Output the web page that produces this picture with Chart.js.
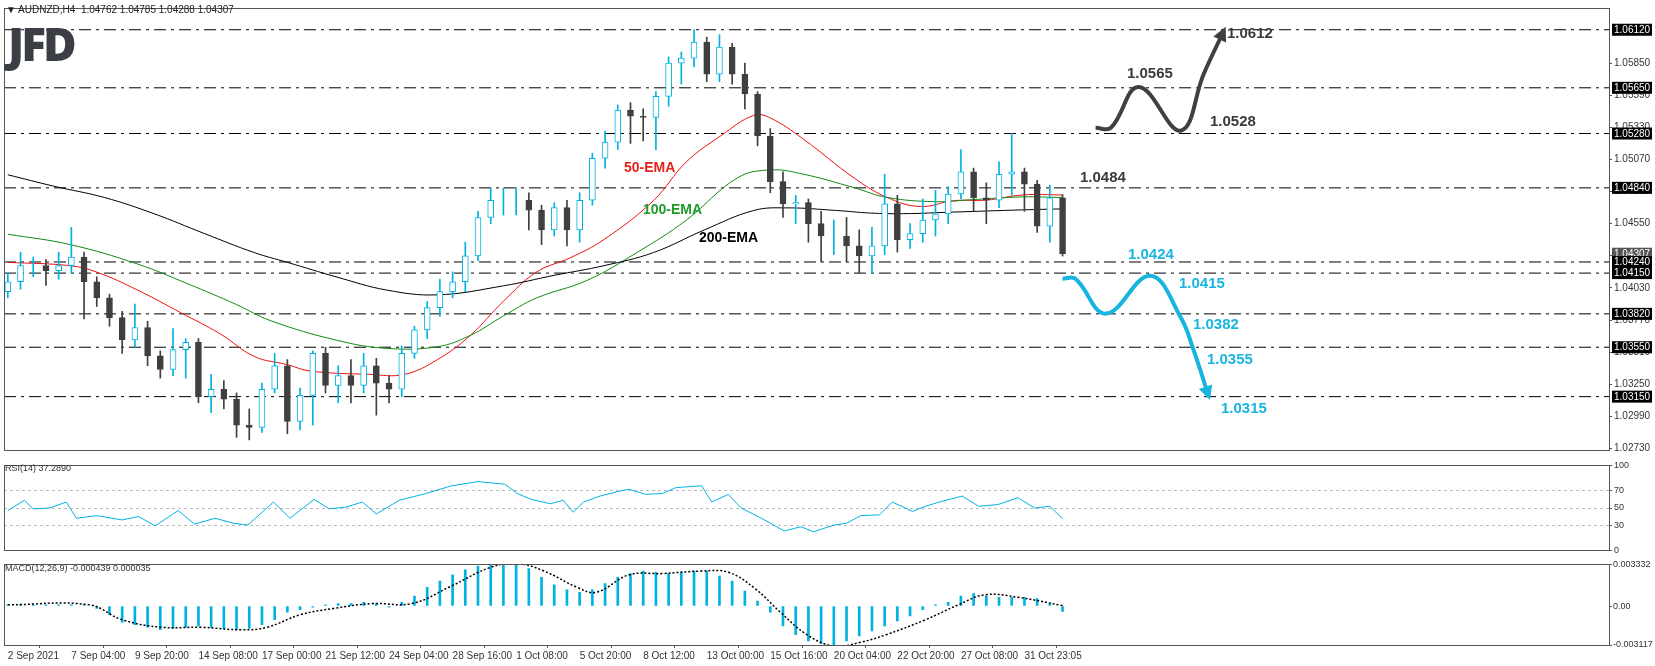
<!DOCTYPE html>
<html>
<head>
<meta charset="utf-8">
<script src="https://cdn.jsdelivr.net/npm/chart.js@4"></script>
<style>
  body { margin: 0; background: #fff; width: 1655px; height: 666px; overflow: hidden; position: relative; font-family: "DejaVu Sans", sans-serif; }
  canvas { position: absolute; left: 0; }
  .t { position: absolute; white-space: nowrap; }
  .lvl { font: bold 15px "Liberation Sans", Arial, sans-serif; }
  .ema { font: bold 14px "Liberation Sans", Arial, sans-serif; }
</style>
</head>
<body>
<canvas id="main" width="1655" height="458" style="top:0"></canvas>
<canvas id="rsi" width="1655" height="100" style="top:458px"></canvas>
<canvas id="macd" width="1655" height="108" style="top:558px"></canvas>

<div class="t" style="left:6px;top:4px;font:10px 'Liberation Sans',sans-serif;color:#222">&#9660; AUDNZD,H4&nbsp; 1.04762 1.04785 1.04288 1.04307</div>
<div class="t" style="left:8px;top:12px;font:900 46px 'Open Sans',sans-serif;color:#3b3f45;letter-spacing:-3px">JFD</div>
<div class="t" style="left:5px;top:463px;font:9px 'Liberation Sans',sans-serif;color:#333">RSI(14) 37.2890</div>
<div class="t" style="left:5px;top:563px;font:9px 'Liberation Sans',sans-serif;color:#333">MACD(12,26,9) -0.000439 0.000035</div>

<div class="t ema" style="left:624px;top:159px;color:#e8201c">50-EMA</div>
<div class="t ema" style="left:643px;top:201px;color:#1f9a2a">100-EMA</div>
<div class="t ema" style="left:699px;top:229px;color:#000">200-EMA</div>

<div class="t lvl" style="left:1227px;top:24px;color:#3a3a3a">1.0612</div>
<div class="t lvl" style="left:1127px;top:64px;color:#3a3a3a">1.0565</div>
<div class="t lvl" style="left:1210px;top:112px;color:#3a3a3a">1.0528</div>
<div class="t lvl" style="left:1080px;top:168px;color:#3a3a3a">1.0484</div>
<div class="t lvl" style="left:1128px;top:245px;color:#1ab4e0">1.0424</div>
<div class="t lvl" style="left:1179px;top:274px;color:#1ab4e0">1.0415</div>
<div class="t lvl" style="left:1193px;top:315px;color:#1ab4e0">1.0382</div>
<div class="t lvl" style="left:1207px;top:350px;color:#1ab4e0">1.0355</div>
<div class="t lvl" style="left:1221px;top:399px;color:#1ab4e0">1.0315</div>

<script>
// bougies H4 (prix)
const closes = [1.0408,1.0421,1.0421,1.0417,1.0421,1.0428,1.0408,1.0395,1.0379,1.0361,
  1.0371,1.0348,1.0337,1.0353,1.0359,1.0315,1.0321,1.0313,1.0292,1.0290,
  1.0321,1.0340,1.0295,1.0316,1.0350,1.0324,1.0332,1.0324,1.0340,1.0326,
  1.0321,1.0350,1.0369,1.0387,1.0400,1.0408,1.0429,1.0460,1.0474,1.0474,
  1.0474,1.0466,1.0450,1.0468,1.0450,1.0474,1.0508,1.0521,1.0547,1.0542,
  1.0541,1.0558,1.0585,1.0589,1.0602,1.0576,1.0598,1.0576,1.0560,1.0526,
  1.0489,1.0471,1.0472,1.0455,1.0445,1.0445,1.0437,1.0429,1.0437,1.0471,
  1.0442,1.0447,1.0458,1.0463,1.0479,1.0497,1.0476,1.0474,1.0495,1.0497,
  1.0487,1.0453,1.0476,1.04307];
const firstOpen = 1.0400;
const highs = [1.0415,1.0432,1.0428,1.0426,1.0432,1.0452,1.0432,1.0412,1.0398,1.0384,
  1.0390,1.0376,1.0352,1.0370,1.0362,1.0362,1.0333,1.0328,1.0318,1.0305,
  1.0326,1.0350,1.0345,1.0322,1.0352,1.0355,1.0340,1.0345,1.0350,1.0346,
  1.0332,1.0356,1.0372,1.0392,1.0410,1.0416,1.0440,1.0465,1.0484,1.0484,
  1.0484,1.0480,1.0470,1.0472,1.0474,1.0480,1.0512,1.0530,1.0551,1.0553,
  1.0548,1.0562,1.0590,1.0594,1.0612,1.0606,1.0608,1.0601,1.0585,1.0562,
  1.0532,1.0497,1.0478,1.0475,1.0465,1.0458,1.0460,1.0450,1.0452,1.0495,
  1.0478,1.0455,1.0475,1.0482,1.0485,1.0515,1.0500,1.0488,1.0505,1.0528,
  1.0500,1.0490,1.0486,1.04785];
const lows = [1.0395,1.0402,1.0412,1.0405,1.0410,1.0415,1.0378,1.0388,1.0372,1.0350,
  1.0355,1.0340,1.0330,1.0332,1.0330,1.0310,1.0302,1.0305,1.0282,1.0280,
  1.0286,1.0318,1.0285,1.0288,1.0292,1.0318,1.0310,1.0310,1.0318,1.0300,
  1.0310,1.0315,1.0346,1.0362,1.0380,1.0395,1.0400,1.0425,1.0455,1.0462,
  1.0462,1.0450,1.0438,1.0445,1.0437,1.0440,1.0470,1.0500,1.0515,1.0520,
  1.0522,1.0515,1.0550,1.0568,1.0582,1.0570,1.0570,1.0568,1.0548,1.0518,
  1.0480,1.0460,1.0455,1.0440,1.0424,1.0430,1.0424,1.0415,1.0415,1.0430,
  1.0432,1.0435,1.0440,1.0445,1.0455,1.0475,1.0465,1.0455,1.0468,1.0478,
  1.0465,1.0448,1.0440,1.04288];

// moyennes mobiles : [bougie, prix]
const ema50 = [[0,1.04237],[4.9,1.04210],[7.0,1.04158],[10.2,1.04013],[13.6,1.03830],[16.7,1.03659],
  [19.4,1.03475],[22.0,1.03409],[23.8,1.03357],[28.5,1.03330],[31.2,1.03330],[33.8,1.03449],
  [36.4,1.03646],[39.0,1.03922],[41.6,1.04158],[44.3,1.04276],[46.9,1.04421],[50.8,1.04736],
  [53.4,1.05051],[56.1,1.05261],[58.7,1.05427],[60.0,1.05406],[62.6,1.05235],[66.6,1.04920],
  [69.2,1.04762],[71.8,1.04689],[74.4,1.04736],[77.0,1.04741],[79.9,1.04783],[83,1.04783]];
const ema100 = [[0,1.04465],[4.9,1.04381],[10.2,1.04224],[14.1,1.04066],[18.0,1.03895],[20.7,1.03764],
  [25.9,1.03606],[29.8,1.03541],[33.8,1.03554],[36.4,1.03646],[39.0,1.03803],[41.6,1.03948],
  [45.6,1.04092],[49.5,1.04316],[53.4,1.04579],[57.4,1.04920],[60.0,1.04985],[62.6,1.04951],
  [66.6,1.04841],[69.2,1.04762],[73.1,1.04728],[75.8,1.04744],[79.9,1.04767],[83,1.04762]];
const ema200 = [[0,1.04946],[3.6,1.04854],[7.6,1.04762],[11.5,1.04631],[15.4,1.04473],[19.4,1.04316],
  [22.0,1.04237],[25.9,1.04118],[29.8,1.04013],[33.8,1.03974],[39.0,1.04047],[43.0,1.04132],
  [46.9,1.04210],[50.8,1.04316],[54.8,1.04499],[58.7,1.04657],[61.3,1.04678],[65.2,1.04657],
  [67.9,1.04636],[70.5,1.04631],[74.4,1.04644],[79.9,1.04662],[83,1.04670]];

const levels = [1.0612, 1.0565, 1.0528, 1.0484, 1.0424, 1.0415, 1.0382, 1.0355, 1.0315];
const bullPath = [[85.6,1.05326],[86.8,1.05326],[89.0,1.05657],[92.3,1.05303],[94.1,1.05760],[95.7,1.06114]];
const bearPath = [[83.0,1.04105],[84.0,1.04105],[86.4,1.03822],[89.9,1.04129],[92.3,1.03791],[93.3,1.03531],[94.5,1.03153]];

const priceTicks = [1.0273,1.0299,1.0325,1.0351,1.0377,1.0403,1.0429,1.0455,1.0481,1.0507,1.0533,1.0559,1.0585];
const lastPrice = 1.04307;

// RSI(14) : [bougie, valeur]
const rsi = [[0,47],[1.3,59],[2.0,49],[3.3,50],[4.6,57],[5.4,38],[7.0,41],[9.0,36],[10.3,40],[11.6,29],
  [13.4,47],[14.7,31],[16.3,38],[17.8,32],[18.9,30],[20.9,57],[22.2,38],[24.1,60],[25.3,49],[26.6,51],
  [27.9,57],[29.0,43],[30.8,59],[32.9,67],[34.9,76],[37.0,81],[39.1,78],[40.1,67],[41.2,60],[42.7,55],
  [43.7,59],[44.5,45],[45.3,57],[46.6,64],[47.9,69],[48.9,72],[50.2,66],[51.5,67],[52.6,74],[54.6,76],
  [55.4,57],[56.7,66],[57.7,50],[59.3,38],[61.1,23],[62.4,28],[63.4,22],[65.0,30],[66.0,32],[67.1,41],
  [68.6,42],[69.6,57],[71.2,46],[72.2,52],[73.3,57],[75.1,64],[76.4,52],[77.9,54],[79.5,62],[80.8,50],
  [82,52],[83,37.3]];
const rsiTicks = [0, 30, 50, 70, 100];

// MACD(12,26,9)
const macdHist = [0.0001,0.0001,0.0001,0.0001,0.0001,0.0001,0.0001,-0.0002,-0.0007,-0.0013,
  -0.0015,-0.0017,-0.0019,-0.0018,-0.0017,-0.0016,-0.0017,-0.0018,-0.0019,-0.0018,
  -0.0015,-0.0011,-0.0005,-0.0003,-0.0001,0.0001,0.0002,0.0002,0.0003,0.0002,
  -0.0001,0.0003,0.0008,0.0015,0.0020,0.0025,0.0029,0.0032,0.0035,0.0035,
  0.0033,0.0030,0.0023,0.0017,0.0013,0.0011,0.0013,0.0018,0.0023,0.0026,
  0.0028,0.0027,0.0026,0.0027,0.0028,0.0028,0.0024,0.0020,0.0012,0.0004,
  -0.0005,-0.0016,-0.0023,-0.0028,-0.0030,-0.0031,-0.0028,-0.0024,-0.0020,-0.0016,
  -0.0012,-0.0008,-0.0003,0.0001,0.0003,0.0008,0.0010,0.0008,0.0007,0.0007,
  0.0007,0.0006,0.0002,-0.00044];
const macdSignal = [[0,0.0001],[6.4,0.0001],[9.0,-0.0011],[12.1,-0.0017],[15.2,-0.0017],[18.4,-0.0019],
  [20.4,-0.0017],[23.0,-0.0007],[25.6,-0.0002],[28.7,0.0002],[31.8,0.0002],[34.9,0.0016],[38.0,0.0031],
  [40.1,0.0034],[42.2,0.0028],[44.8,0.0015],[46.3,0.0011],[48.9,0.0025],[51.5,0.0026],[54.6,0.0028],
  [56.7,0.0027],[58.8,0.0014],[60.8,-0.0005],[62.9,-0.0023],[65.0,-0.0032],[67.1,-0.0029],[69.1,-0.0023],
  [72.2,-0.0011],[74.8,0.0001],[76.9,0.0009],[79.5,0.0007],[83,0.000035]];
const macdTicks = [-0.003117, 0, 0.003332];

const timeLabels = ["2 Sep 2021","7 Sep 04:00","9 Sep 20:00","14 Sep 08:00","17 Sep 00:00","21 Sep 12:00",
  "24 Sep 04:00","28 Sep 16:00","1 Oct 08:00","5 Oct 20:00","8 Oct 12:00","13 Oct 00:00","15 Oct 16:00",
  "20 Oct 04:00","22 Oct 20:00","27 Oct 08:00","31 Oct 23:05"];

const CYAN = "#00b2e2", DARK = "#3f3f3f";
const X_MIN = -0.3, X_MAX = 126.0;
const AXIS_W = 46;
const tickFont = { family: "Liberation Sans", size: 10 };
const smallFont = { family: "Liberation Sans", size: 9 };

const opens = closes.map((c, i) => i === 0 ? firstOpen : closes[i - 1]);
const isBull = closes.map((c, i) => c >= opens[i]);
const pts = arr => arr.map(p => ({ x: p[0], y: p[1] }));

// cadre des panneaux + flèches
const framePlugin = {
  id: "frame",
  afterDatasetsDraw(chart) {
    const { ctx, chartArea: a } = chart;
    chart.data.datasets.forEach((ds, i) => {
      if (!ds.arrow) return;
      const el = chart.getDatasetMeta(i).data;
      const p1 = el[el.length - 2], p2 = el[el.length - 1];
      const ang = Math.atan2(p2.y - p1.y, p2.x - p1.x);
      ctx.save();
      ctx.translate(p2.x, p2.y);
      ctx.rotate(ang);
      ctx.fillStyle = ds.borderColor;
      ctx.beginPath();
      ctx.moveTo(4, 0); ctx.lineTo(-10, -7); ctx.lineTo(-10, 7); ctx.closePath();
      ctx.fill();
      ctx.restore();
    });
    ctx.save();
    ctx.strokeStyle = "#555";
    ctx.lineWidth = 1;
    ctx.strokeRect(Math.round(a.left) + 0.5, Math.round(a.top) + 0.5, Math.round(a.right - a.left), Math.round(a.bottom - a.top));
    ctx.restore();
  }
};

// étiquettes noires des niveaux sur l'axe des prix
const boxPlugin = {
  id: "boxes",
  afterDraw(chart) {
    const { ctx } = chart;
    const y = chart.scales.y;
    const x0 = chart.chartArea.right + 3;
    ctx.save();
    ctx.font = "10px Liberation Sans";
    ctx.textBaseline = "middle";
    const draw = (v, bg) => {
      const py = y.getPixelForValue(v);
      ctx.fillStyle = bg;
      ctx.fillRect(x0, py - 6, 40, 12);
      ctx.fillStyle = "#fff";
      ctx.fillText(v.toFixed(5), x0 + 2, py + 0.5);
    };
    draw(lastPrice, "#555");
    levels.forEach(v => draw(v, "#000"));
    ctx.restore();
  }
};

function yAxis(extra) {
  return Object.assign({
    position: "right",
    afterFit(s) { s.width = AXIS_W; },
    border: { display: false },
    grid: { drawOnChartArea: false, drawTicks: true, tickLength: 3, color: "#555" },
    ticks: { font: tickFont, color: "#333", padding: 2 }
  }, extra);
}
const xHidden = { type: "linear", min: X_MIN, max: X_MAX, offset: false, display: false };

new Chart(document.getElementById("main"), {
  type: "bar",
  data: {
    datasets: [
      ...levels.map(v => ({
        type: "line", data: [{ x: X_MIN, y: v }, { x: X_MAX, y: v }],
        borderColor: "#000", borderWidth: 1, borderDash: [12, 5, 3, 5], pointRadius: 0, order: 5
      })),
      { type: "line", data: pts(ema200), borderColor: "#000", borderWidth: 1, pointRadius: 0, tension: 0.4, order: 4 },
      { type: "line", data: pts(ema100), borderColor: "#138a13", borderWidth: 1, pointRadius: 0, tension: 0.4, order: 4 },
      { type: "line", data: pts(ema50), borderColor: "#f01010", borderWidth: 1, pointRadius: 0, tension: 0.4, order: 4 },
      {
        data: closes.map((c, i) => ({ x: i, y: [lows[i], highs[i]] })),
        backgroundColor: isBull.map(b => b ? CYAN : DARK),
        barThickness: 1, grouped: false, order: 3
      },
      {
        data: closes.map((c, i) => ({ x: i, y: [opens[i], c] })),
        backgroundColor: isBull.map(b => b ? "#fff" : DARK),
        borderColor: isBull.map(b => b ? CYAN : DARK),
        borderWidth: 1, borderSkipped: false, barThickness: 6, grouped: false, order: 2
      },
      { type: "line", arrow: true, data: pts(bullPath), borderColor: "#404040", borderWidth: 4, pointRadius: 0, tension: 0.4, order: 1 },
      { type: "line", arrow: true, data: pts(bearPath), borderColor: "#18b4e0", borderWidth: 4, pointRadius: 0, tension: 0.4, order: 1 }
    ]
  },
  options: {
    responsive: false, animation: false,
    layout: { padding: { left: 4, top: 2, bottom: 2, right: 0 } },
    plugins: { legend: { display: false }, tooltip: { enabled: false } },
    scales: {
      x: xHidden,
      y: yAxis({
        min: 1.02718, max: 1.06296,
        afterBuildTicks(s) { s.ticks = priceTicks.map(v => ({ value: v })); },
        ticks: { font: tickFont, color: "#333", padding: 2, callback: v => v.toFixed(5) }
      })
    }
  },
  plugins: [framePlugin, boxPlugin]
});

new Chart(document.getElementById("rsi"), {
  type: "line",
  data: { datasets: [{ data: pts(rsi), borderColor: CYAN, borderWidth: 1, pointRadius: 0, tension: 0 }] },
  options: {
    responsive: false, animation: false,
    layout: { padding: { left: 4, top: 1, bottom: 1, right: 0 } },
    plugins: { legend: { display: false }, tooltip: { enabled: false } },
    scales: {
      x: xHidden,
      y: yAxis({
        min: 0, max: 100,
        afterBuildTicks(s) { s.ticks = rsiTicks.map(v => ({ value: v })); },
        border: { display: false, dash: [3, 3] },
        grid: {
          drawOnChartArea: true, drawTicks: true, tickLength: 3,
          color: c => (c.tick && (c.tick.value === 0 || c.tick.value === 100)) ? "rgba(0,0,0,0)" : "#bbb",
          tickColor: "#555"
        },
        ticks: { font: smallFont, color: "#333", padding: 2 }
      })
    }
  },
  plugins: [framePlugin]
});

new Chart(document.getElementById("macd"), {
  type: "bar",
  data: {
    datasets: [
      { data: macdHist.map((v, i) => ({ x: i, y: v })), backgroundColor: CYAN, barThickness: 2, order: 2 },
      { type: "line", data: pts(macdSignal), borderColor: "#000", borderWidth: 1.5, borderDash: [2, 2], pointRadius: 0, tension: 0.4, order: 1 }
    ]
  },
  options: {
    responsive: false, animation: false,
    layout: { padding: { left: 4, top: 1, bottom: 0, right: 0 } },
    plugins: { legend: { display: false }, tooltip: { enabled: false } },
    scales: {
      x: {
        type: "linear", min: X_MIN, max: X_MAX, offset: false,
        afterFit(s) { s.height = 21; },
        afterBuildTicks(s) { s.ticks = timeLabels.map((t, i) => ({ value: i * 5 })); },
        border: { display: false },
        grid: { drawOnChartArea: false, tickLength: 3, color: "#555" },
        ticks: {
          font: tickFont, color: "#333", padding: 2, maxRotation: 0, autoSkip: false, align: "start",
          callback: (v) => timeLabels[Math.round(v / 5)]
        }
      },
      y: yAxis({
        min: -0.003117, max: 0.003332,
        afterBuildTicks(s) { s.ticks = macdTicks.map(v => ({ value: v })); },
        ticks: { font: smallFont, color: "#333", padding: 1, callback: v => v === 0 ? "0.00" : v.toFixed(6) }
      })
    }
  },
  plugins: [framePlugin]
});
</script>
</body>
</html>
